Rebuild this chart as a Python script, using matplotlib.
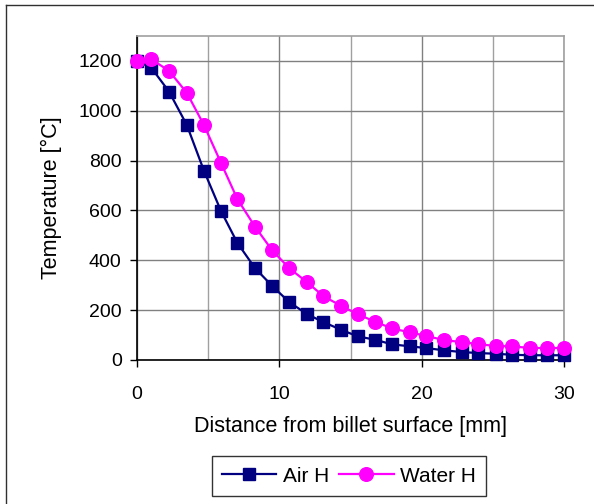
import matplotlib
matplotlib.use("Agg")
import matplotlib.pyplot as plt
from matplotlib.ticker import MultipleLocator
from matplotlib.lines import Line2D

plt.rcParams['font.family'] = ['Liberation Sans', 'DejaVu Sans']

distance = [0, 1.0, 2.25, 3.5, 4.7, 5.9, 7.05, 8.3, 9.5, 10.7, 11.95, 13.1, 14.35,
            15.5, 16.75, 17.9, 19.15, 20.3, 21.55, 22.8, 23.95, 25.2, 26.35, 27.6, 28.8, 30.0]
air_h = [1200, 1173, 1077, 943, 760, 598, 470, 368, 297, 232, 184, 152, 121,
         95, 81, 63, 55, 48, 39, 32, 28, 25, 21, 19, 19, 19]
water_h = [1200, 1207, 1160, 1072, 943, 791, 646, 534, 440, 368, 312, 256, 217,
           184, 153, 127, 111, 97, 80, 72, 64, 56, 55, 48, 48, 48]
x_ticks = [0, 10, 20, 30]
y_ticks = [0, 200, 400, 600, 800, 1000, 1200]

W, H = 594, 504
fig = plt.figure(figsize=(W / 100, H / 100), dpi=100)
ax = fig.add_axes([137 / W, 1 - 360 / H, (564 - 137) / W, (360 - 36) / H])

ax.plot(distance, air_h, color='#000080', lw=1.6, marker='s', markersize=9.2,
        markerfacecolor='#000080', markeredgecolor='#000080', label='Air H', zorder=3, clip_on=False)
ax.plot(distance, water_h, color='#FF00FF', lw=1.6, marker='o', markersize=9.8,
        markerfacecolor='#FF00FF', markeredgecolor='#FF00FF', label='Water H', zorder=4, clip_on=False)

ax.set_xlim(0, 30)
ax.set_ylim(0, 1300)
ax.set_xticks(x_ticks)
ax.set_yticks(y_ticks)
ax.xaxis.set_minor_locator(MultipleLocator(5))
ax.tick_params(axis='both', which='major', labelsize=14, direction='out', length=5, width=1, color='black')
ax.tick_params(axis='x', which='minor', length=0)
ax.tick_params(axis='x', pad=14)
ax.tick_params(axis='y', pad=6)
ax.grid(True, which='major', axis='both', color='#808080', lw=1)
ax.grid(True, which='minor', axis='x', color='#a0a0a0', lw=1)
ax.set_axisbelow(True)

for s in ['top', 'right']:
    ax.spines[s].set_color('#a0a0a0')
    ax.spines[s].set_linewidth(1.2)
for s in ['left', 'bottom']:
    ax.spines[s].set_color('black')
    ax.spines[s].set_linewidth(1.2)

ax.set_xlabel('Distance from billet surface [mm]', fontsize=15.5, labelpad=9)
ax.set_ylabel('Temperature [°C]', fontsize=15.5, labelpad=12)

leg = fig.legend(loc='center', bbox_to_anchor=(349 / W, 1 - 476 / H), ncol=2,
                 fontsize=15, frameon=True, fancybox=False, handlelength=2.6,
                 columnspacing=0.5, handletextpad=0.3, borderpad=0.5, edgecolor='black')
leg.get_frame().set_linewidth(1.0)

# outer chart border (left and top edges visible)
fig.add_artist(Line2D([5.5 / W, 5.5 / W], [0, 1 - 4.5 / H], color='#303030', lw=1, transform=fig.transFigure))
fig.add_artist(Line2D([5.5 / W, 1], [1 - 4.5 / H, 1 - 4.5 / H], color='#303030', lw=1, transform=fig.transFigure))

fig.savefig('out.png', dpi=100)
